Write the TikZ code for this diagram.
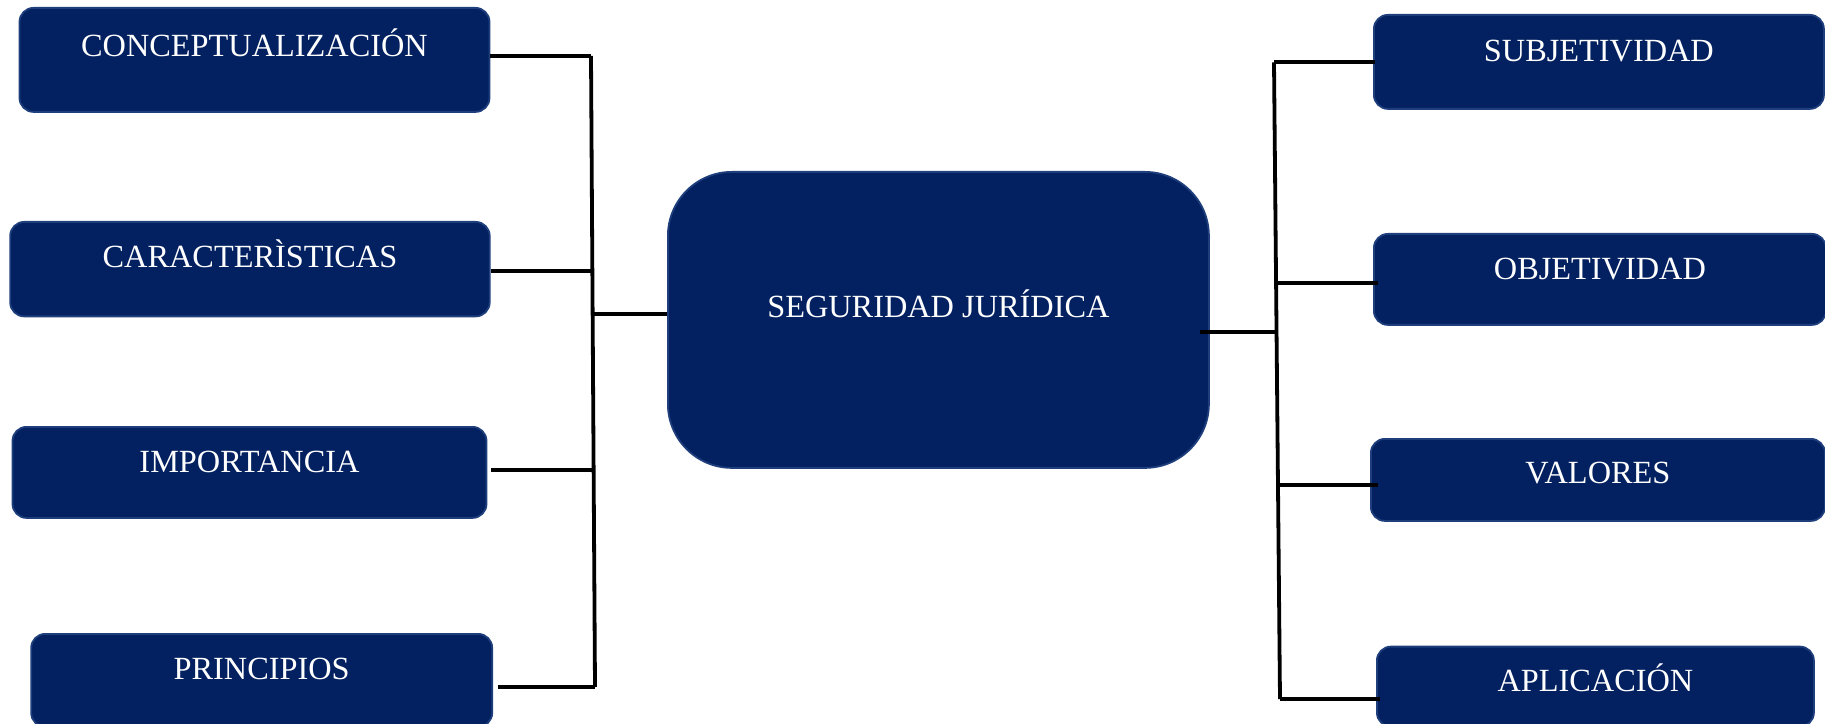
\documentclass[tikz,border=0pt]{standalone}
\usepackage{fontspec}
\setmainfont{Liberation Serif}
\definecolor{navy}{RGB}{3,33,96}
\definecolor{navyedge}{RGB}{30,62,124}
\tikzset{
  box/.style={fill=navy, draw=navyedge, line width=0.18mm, rounded corners=1.4mm,
    inner xsep=0pt, inner ysep=0pt, anchor=north west, text=white,
    font=\fontsize{9.2}{11}\selectfont},
  conn/.style={draw=black, line width=0.38mm}
}
\begin{document}
\begin{tikzpicture}[x=0.1mm,y=-0.1mm]
\useasboundingbox (0,0) rectangle (1825,724);
\clip (0,0) rectangle (1825,724);
% left boxes
\node[box, minimum width=47mm, text height=4.9mm, text depth=5.5mm] (conc) at (18.6,7) {CONCEPTUALIZACIÓN};
\node[box, minimum width=47.95mm, text height=4.6mm, text depth=4.85mm] (carac) at (9.3,221) {CARACTERÌSTICAS};
\node[box, minimum width=47.4mm, text height=4.6mm, text depth=4.5mm] (impo) at (11.6,426) {IMPORTANCIA};
\node[box, minimum width=46.1mm, text height=4.6mm, text depth=4.7mm] (princ) at (30.3,633) {PRINCIPIOS};
% central box
\node[box, rounded corners=6.4mm, minimum width=54.1mm, text height=14.6mm, text depth=15.0mm] (seg) at (667,171) {SEGURIDAD JURÍDICA};
% right boxes
\node[box, minimum width=45mm, text height=4.67mm, text depth=4.73mm] (subj) at (1373,14) {SUBJETIVIDAD};
\node[box, minimum width=45.2mm, text height=4.57mm, text depth=4.53mm] (obj) at (1373,233) {OBJETIVIDAD};
\node[box, minimum width=45.4mm, text height=4.5mm, text depth=3.7mm] (val) at (1370,438) {VALORES};
\node[box, minimum width=43.7mm, text height=4.45mm, text depth=3.55mm] (aplic) at (1376,645.7) {APLICACIÓN};
% left junctions
\coordinate (jl1) at (591,56);
\coordinate (jl2) at (592.4,271);
\coordinate (jl5) at (592.6,314);
\coordinate (jl3) at (593.6,470);
\coordinate (jl4) at (595,687);
% right junctions
\coordinate (jr1) at (1274,62.3);
\coordinate (jr2) at (1276.1,282.7);
\coordinate (jr0) at (1276.5,331.7);
\coordinate (jr3) at (1278,485);
\coordinate (jr4) at (1280,699);
% left connectors
\draw[conn] (jl1) -- (jl4);
\draw[conn] (conc.east |- jl1) -- (jl1);
\draw[conn] (carac.east |- jl2) -- (jl2);
\draw[conn] ([xshift=0.4mm]impo.east |- jl3) -- (jl3);
\draw[conn] ([xshift=0.5mm]princ.east |- jl4) -- (jl4);
\draw[conn] (jl5) -- (seg.west |- jl5);
% right connectors
\draw[conn] (jr1) -- (jr4);
\draw[conn] ([xshift=-1mm]seg.east |- jr0) -- (jr0);
\draw[conn] (jr1) -- ([xshift=0.2mm]subj.west |- jr1);
\draw[conn] (jr2) -- ([xshift=0.45mm]obj.west |- jr2);
\draw[conn] (jr3) -- ([xshift=0.75mm]val.west |- jr3);
\draw[conn] (jr4) -- ([xshift=0.4mm]aplic.west |- jr4);
\end{tikzpicture}
\end{document}
